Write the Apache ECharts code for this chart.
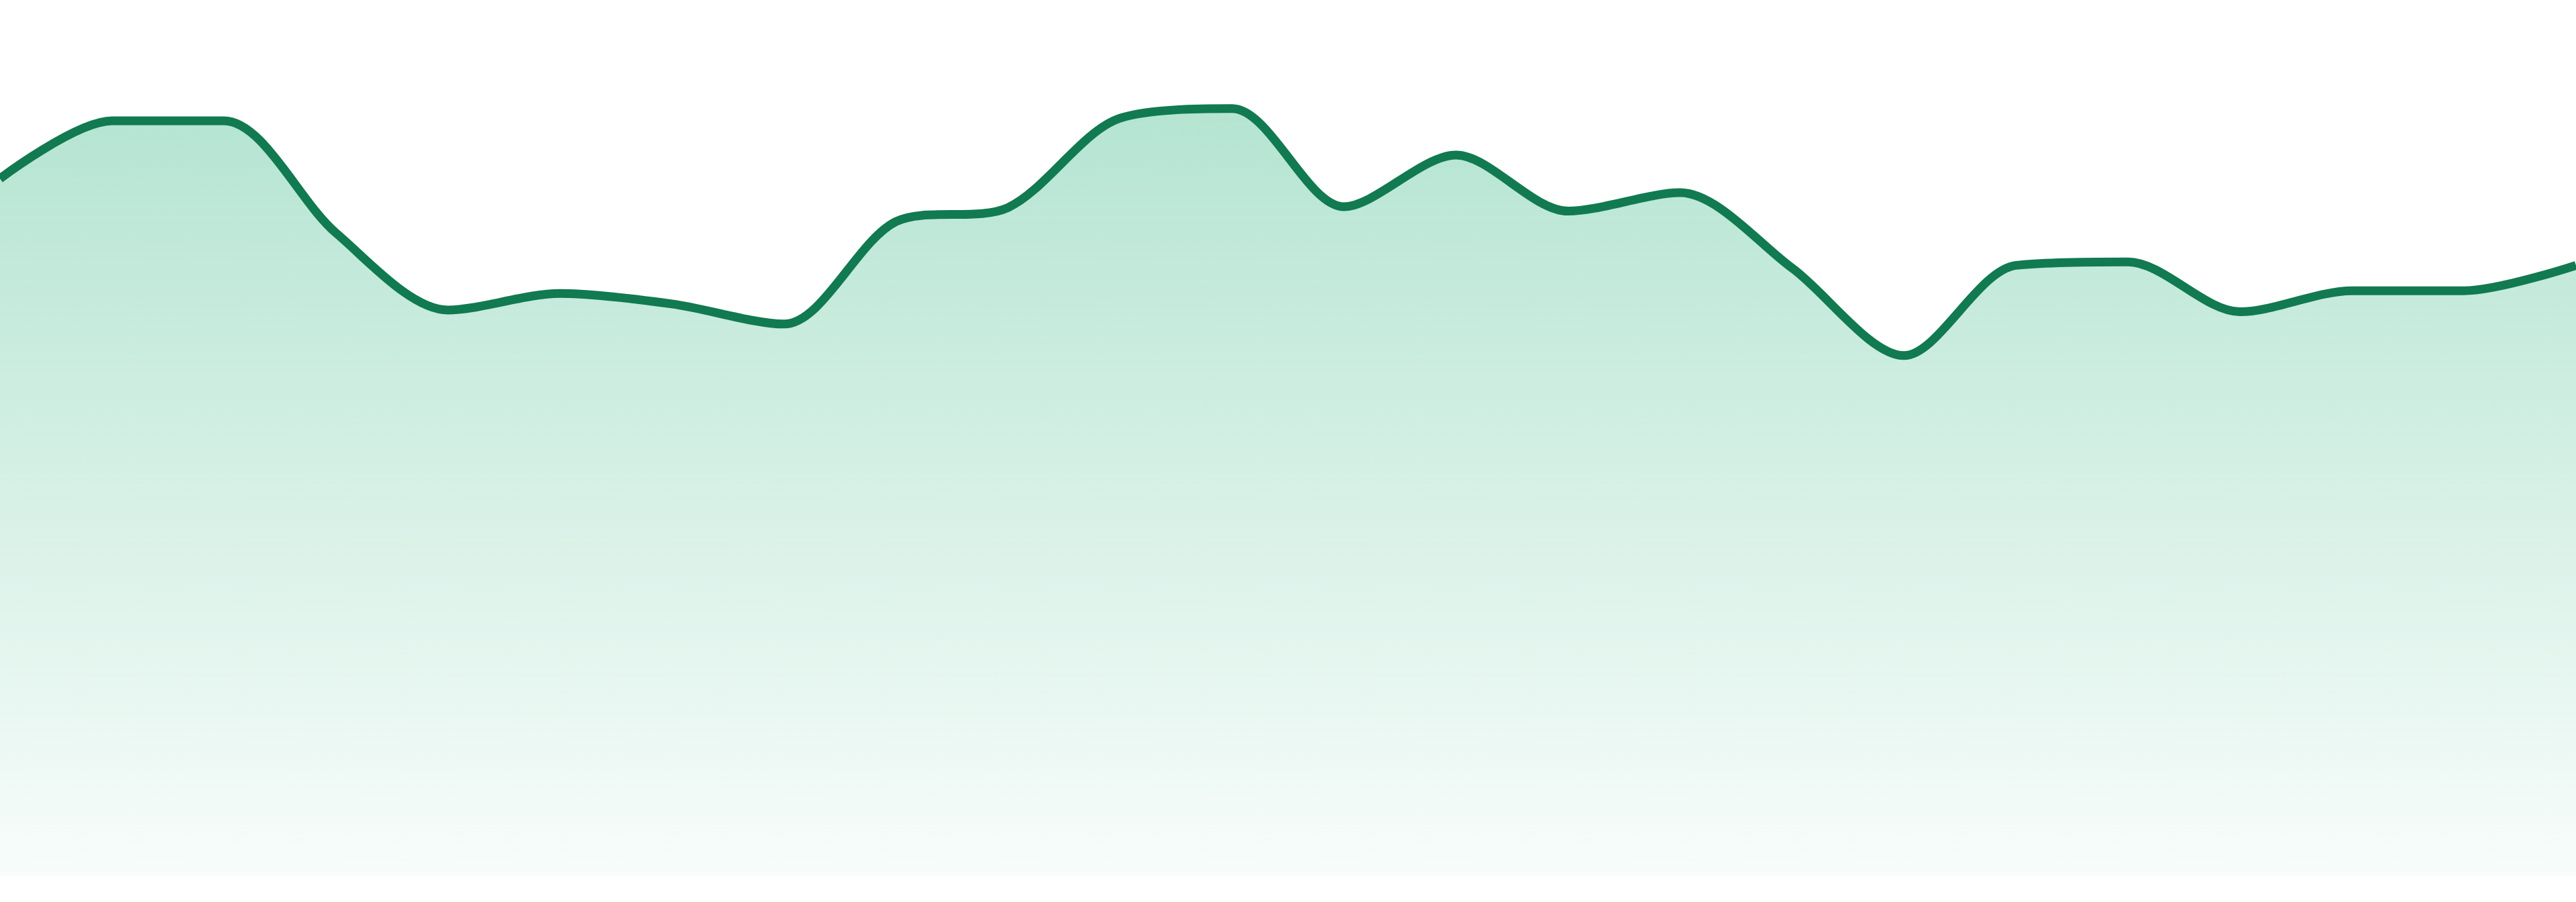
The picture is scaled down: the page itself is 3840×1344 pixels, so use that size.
<!DOCTYPE html>
<html>
<head>
<meta charset="utf-8">
<style>
  html, body { margin: 0; padding: 0; background: #ffffff; }
  #main { width: 3840px; height: 1344px; }
</style>
<script src="https://cdn.jsdelivr.net/npm/echarts@6/dist/echarts.min.js"></script>
</head>
<body>
<div id="main"></div>
<script>
// 24 samples (axis hidden, 0..100 scale)
var categories = ['1', '2', '3', '4', '5', '6', '7', '8', '9', '10', '11', '12',
                  '13', '14', '15', '16', '17', '18', '19', '20', '21', '22', '23', '24'];
var values = [79.6, 86.2, 86.2, 73.4, 64.6, 66.5, 65.3, 63.0, 74.7, 76.3, 86.5, 87.6,
              76.4, 82.3, 75.9, 78.0, 69.4, 59.4, 69.7, 70.1, 64.4, 66.8, 66.8, 69.7];
var yMin = 0;
var yMax = 100;

var chart = echarts.init(document.getElementById('main'));
var option = {
  animation: false,
  grid: { left: 0, right: 0, top: 0, bottom: 39 },
  xAxis: {
    type: 'category',
    boundaryGap: false,
    data: categories,
    show: false
  },
  yAxis: {
    type: 'value',
    min: yMin,
    max: yMax,
    show: false
  },
  series: [{
    type: 'line',
    data: values,
    smooth: 0.3,
    symbol: 'none',
    lineStyle: { color: '#117a50', width: 13 },
    areaStyle: {
      opacity: 1,
      color: new echarts.graphic.LinearGradient(0, 0, 0, 1, [
        { offset: 0, color: 'rgba(49, 181, 129, 0.36)' },
        { offset: 1, color: 'rgba(49, 181, 129, 0.035)' }
      ])
    }
  }]
};
chart.setOption(option);
</script>
</body>
</html>
